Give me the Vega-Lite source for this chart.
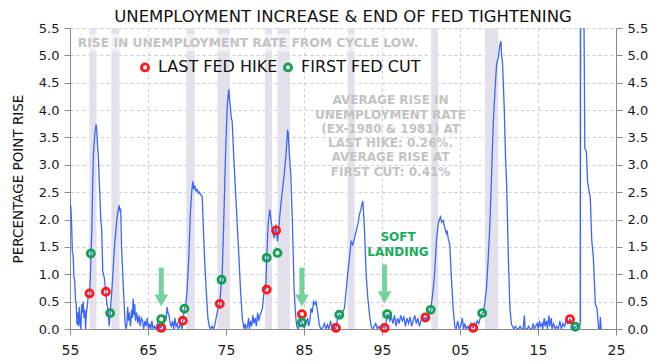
{
  "$schema": "https://vega.github.io/schema/vega-lite/v6.json",
  "width": 546,
  "height": 301,
  "autosize": {"type": "none"},
  "padding": {"left": 70, "top": 28, "right": 48, "bottom": 35},
  "background": "white",
  "title": {
    "text": "UNEMPLOYMENT INCREASE & END OF FED TIGHTENING",
    "font": "DejaVu Sans",
    "fontSize": 16.5,
    "fontWeight": "normal",
    "color": "#111",
    "anchor": "middle",
    "offset": 5,
    "dy": 8
  },
  "config": {
    "view": {"stroke": null},
    "axis": {
      "labelFont": "DejaVu Sans",
      "titleFont": "DejaVu Sans",
      "labelColor": "#1a1a1a",
      "domainColor": "#8a8a8a",
      "tickColor": "#8a8a8a",
      "tickSize": 6,
      "labelFlush": false,
      "gridColor": "#cdc5de",
      "gridDash": [3, 3],
      "gridWidth": 1
    }
  },
  "datasets": {
    "rec": [
      {"s": 1957.5, "e": 1958.4},
      {"s": 1960.3, "e": 1961.35},
      {"s": 1969.9, "e": 1971.0},
      {"s": 1973.9, "e": 1975.5},
      {"s": 1980.0, "e": 1980.9},
      {"s": 1981.6, "e": 1983.2},
      {"s": 1990.6, "e": 1991.5},
      {"s": 2001.3, "e": 2002.2},
      {"s": 2008.2, "e": 2009.9},
      {"s": 2020.3, "e": 2020.6}
    ],
    "series": [
      {"t": 1955.0, "v": 2.40}, {"t": 1955.05, "v": 2.15}, {"t": 1955.1, "v": 2.25}, {"t": 1955.2, "v": 1.95},
      {"t": 1955.3, "v": 1.40}, {"t": 1955.4, "v": 1.35}, {"t": 1955.5, "v": 0.95}, {"t": 1955.6, "v": 0.90},
      {"t": 1955.7, "v": 0.55}, {"t": 1955.8, "v": 0.45}, {"t": 1955.9, "v": 0.08}, {"t": 1956.0, "v": 0.30},
      {"t": 1956.1, "v": 0.05}, {"t": 1956.2, "v": 0.40}, {"t": 1956.3, "v": 0.10}, {"t": 1956.4, "v": 0.00},
      {"t": 1956.5, "v": 0.45}, {"t": 1956.6, "v": 0.30}, {"t": 1956.7, "v": 0.50}, {"t": 1956.8, "v": 0.20},
      {"t": 1956.9, "v": 0.35}, {"t": 1957.0, "v": 0.00}, {"t": 1957.1, "v": 0.30}, {"t": 1957.2, "v": 0.40},
      {"t": 1957.3, "v": 0.55}, {"t": 1957.4, "v": 0.60}, {"t": 1957.5, "v": 0.65}, {"t": 1957.6, "v": 0.90},
      {"t": 1957.7, "v": 1.40}, {"t": 1957.8, "v": 1.80}, {"t": 1957.9, "v": 2.60}, {"t": 1958.0, "v": 3.20},
      {"t": 1958.2, "v": 3.60}, {"t": 1958.35, "v": 3.74}, {"t": 1958.45, "v": 3.60}, {"t": 1958.55, "v": 3.30},
      {"t": 1958.65, "v": 3.10}, {"t": 1958.75, "v": 2.70}, {"t": 1958.86, "v": 2.33}, {"t": 1958.95, "v": 2.00},
      {"t": 1959.07, "v": 1.80}, {"t": 1959.2, "v": 1.05}, {"t": 1959.3, "v": 1.00}, {"t": 1959.4, "v": 0.93},
      {"t": 1959.5, "v": 0.80}, {"t": 1959.6, "v": 0.68}, {"t": 1959.72, "v": 0.45}, {"t": 1959.85, "v": 0.40},
      {"t": 1959.95, "v": 0.20}, {"t": 1960.02, "v": 0.05}, {"t": 1960.15, "v": 0.29}, {"t": 1960.36, "v": 0.69},
      {"t": 1960.5, "v": 1.00}, {"t": 1960.65, "v": 1.40}, {"t": 1960.79, "v": 1.66}, {"t": 1961.0, "v": 2.00},
      {"t": 1961.15, "v": 2.15}, {"t": 1961.3, "v": 2.26}, {"t": 1961.4, "v": 2.15}, {"t": 1961.5, "v": 2.20},
      {"t": 1961.6, "v": 1.55}, {"t": 1961.7, "v": 1.20}, {"t": 1961.86, "v": 0.69}, {"t": 1962.0, "v": 0.30},
      {"t": 1962.08, "v": 0.08}, {"t": 1962.2, "v": 0.00}, {"t": 1962.3, "v": 0.10}, {"t": 1962.4, "v": 0.40},
      {"t": 1962.5, "v": 0.15}, {"t": 1962.6, "v": 0.30}, {"t": 1962.75, "v": 0.05}, {"t": 1962.9, "v": 0.35},
      {"t": 1963.0, "v": 0.20}, {"t": 1963.1, "v": 0.55}, {"t": 1963.2, "v": 0.25}, {"t": 1963.3, "v": 0.45},
      {"t": 1963.4, "v": 0.15}, {"t": 1963.55, "v": 0.30}, {"t": 1963.7, "v": 0.10}, {"t": 1963.85, "v": 0.25},
      {"t": 1964.0, "v": 0.05}, {"t": 1964.15, "v": 0.20}, {"t": 1964.3, "v": 0.15}, {"t": 1964.45, "v": 0.00},
      {"t": 1964.6, "v": 0.15}, {"t": 1964.75, "v": 0.05}, {"t": 1964.9, "v": 0.20}, {"t": 1965.05, "v": 0.00},
      {"t": 1965.2, "v": 0.10}, {"t": 1965.35, "v": 0.00}, {"t": 1965.5, "v": 0.15}, {"t": 1965.65, "v": 0.00},
      {"t": 1965.8, "v": 0.05}, {"t": 1966.0, "v": 0.00}, {"t": 1966.2, "v": 0.10}, {"t": 1966.4, "v": 0.00},
      {"t": 1966.55, "v": 0.05}, {"t": 1966.7, "v": 0.02}, {"t": 1966.85, "v": 0.10}, {"t": 1967.0, "v": 0.05},
      {"t": 1967.15, "v": 0.25}, {"t": 1967.3, "v": 0.15}, {"t": 1967.45, "v": 0.40}, {"t": 1967.55, "v": 0.30},
      {"t": 1967.7, "v": 0.25}, {"t": 1967.85, "v": 0.10}, {"t": 1968.0, "v": 0.05}, {"t": 1968.15, "v": 0.15},
      {"t": 1968.3, "v": 0.00}, {"t": 1968.45, "v": 0.20}, {"t": 1968.6, "v": 0.05}, {"t": 1968.75, "v": 0.10},
      {"t": 1968.9, "v": 0.00}, {"t": 1969.05, "v": 0.05}, {"t": 1969.2, "v": 0.10}, {"t": 1969.35, "v": 0.00},
      {"t": 1969.46, "v": 0.15}, {"t": 1969.67, "v": 0.37}, {"t": 1969.85, "v": 0.45}, {"t": 1970.0, "v": 0.69},
      {"t": 1970.23, "v": 1.30}, {"t": 1970.44, "v": 2.15}, {"t": 1970.6, "v": 2.50}, {"t": 1970.74, "v": 2.70},
      {"t": 1970.87, "v": 2.55}, {"t": 1971.0, "v": 2.62}, {"t": 1971.15, "v": 2.52}, {"t": 1971.3, "v": 2.55},
      {"t": 1971.45, "v": 2.48}, {"t": 1971.6, "v": 2.50}, {"t": 1971.73, "v": 2.46}, {"t": 1971.95, "v": 2.42},
      {"t": 1972.08, "v": 1.91}, {"t": 1972.25, "v": 1.30}, {"t": 1972.47, "v": 0.69}, {"t": 1972.68, "v": 0.20},
      {"t": 1972.85, "v": 0.05}, {"t": 1973.02, "v": 0.00}, {"t": 1973.2, "v": 0.05}, {"t": 1973.4, "v": 0.00},
      {"t": 1973.6, "v": 0.10}, {"t": 1973.8, "v": 0.25}, {"t": 1974.0, "v": 0.40}, {"t": 1974.2, "v": 0.46},
      {"t": 1974.43, "v": 0.90}, {"t": 1974.5, "v": 0.93}, {"t": 1974.7, "v": 1.91}, {"t": 1974.93, "v": 3.13},
      {"t": 1975.14, "v": 4.04}, {"t": 1975.3, "v": 4.30}, {"t": 1975.37, "v": 4.38}, {"t": 1975.45, "v": 4.20},
      {"t": 1975.57, "v": 4.04}, {"t": 1975.68, "v": 3.85}, {"t": 1975.79, "v": 3.80}, {"t": 1976.0, "v": 3.13},
      {"t": 1976.2, "v": 2.58}, {"t": 1976.44, "v": 1.91}, {"t": 1976.66, "v": 1.30}, {"t": 1976.87, "v": 0.69},
      {"t": 1977.09, "v": 0.20}, {"t": 1977.3, "v": 0.00}, {"t": 1977.45, "v": 0.10}, {"t": 1977.6, "v": 0.00},
      {"t": 1977.75, "v": 0.05}, {"t": 1977.9, "v": 0.20}, {"t": 1978.0, "v": 0.00}, {"t": 1978.15, "v": 0.15},
      {"t": 1978.3, "v": 0.05}, {"t": 1978.45, "v": 0.25}, {"t": 1978.6, "v": 0.10}, {"t": 1978.75, "v": 0.20},
      {"t": 1978.9, "v": 0.05}, {"t": 1979.05, "v": 0.30}, {"t": 1979.2, "v": 0.15}, {"t": 1979.35, "v": 0.25},
      {"t": 1979.5, "v": 0.30}, {"t": 1979.67, "v": 0.38}, {"t": 1979.97, "v": 0.81}, {"t": 1980.1, "v": 0.72},
      {"t": 1980.22, "v": 1.30}, {"t": 1980.4, "v": 1.91}, {"t": 1980.61, "v": 2.18}, {"t": 1980.74, "v": 2.03},
      {"t": 1980.96, "v": 1.79}, {"t": 1981.17, "v": 1.66}, {"t": 1981.38, "v": 1.91}, {"t": 1981.6, "v": 1.60},
      {"t": 1981.8, "v": 1.91}, {"t": 1982.03, "v": 2.27}, {"t": 1982.25, "v": 2.55}, {"t": 1982.46, "v": 2.82},
      {"t": 1982.7, "v": 3.20}, {"t": 1982.89, "v": 3.62}, {"t": 1982.97, "v": 3.60}, {"t": 1983.1, "v": 3.25},
      {"t": 1983.31, "v": 2.82}, {"t": 1983.52, "v": 1.91}, {"t": 1983.74, "v": 0.69}, {"t": 1983.95, "v": 0.20},
      {"t": 1984.08, "v": 0.05}, {"t": 1984.25, "v": 0.00}, {"t": 1984.45, "v": 0.10}, {"t": 1984.6, "v": 0.25},
      {"t": 1984.73, "v": 0.12}, {"t": 1984.9, "v": 0.05}, {"t": 1985.03, "v": 0.02}, {"t": 1985.25, "v": 0.10},
      {"t": 1985.46, "v": 0.20}, {"t": 1985.6, "v": 0.05}, {"t": 1985.75, "v": 0.15}, {"t": 1985.89, "v": 0.38},
      {"t": 1986.05, "v": 0.30}, {"t": 1986.23, "v": 0.50}, {"t": 1986.4, "v": 0.45}, {"t": 1986.53, "v": 0.50},
      {"t": 1986.75, "v": 0.32}, {"t": 1986.96, "v": 0.08}, {"t": 1987.15, "v": 0.00}, {"t": 1987.39, "v": 0.02},
      {"t": 1987.6, "v": 0.10}, {"t": 1987.8, "v": 0.00}, {"t": 1988.0, "v": 0.08}, {"t": 1988.2, "v": 0.00},
      {"t": 1988.4, "v": 0.15}, {"t": 1988.6, "v": 0.00}, {"t": 1988.8, "v": 0.10}, {"t": 1988.95, "v": 0.00},
      {"t": 1989.1, "v": 0.02}, {"t": 1989.32, "v": 0.20}, {"t": 1989.53, "v": 0.26}, {"t": 1989.75, "v": 0.20},
      {"t": 1989.95, "v": 0.30}, {"t": 1990.18, "v": 0.38}, {"t": 1990.4, "v": 0.69}, {"t": 1990.6, "v": 1.00},
      {"t": 1990.83, "v": 1.30}, {"t": 1991.04, "v": 1.60}, {"t": 1991.26, "v": 1.54}, {"t": 1991.47, "v": 1.66},
      {"t": 1991.69, "v": 1.79}, {"t": 1991.9, "v": 1.91}, {"t": 1992.11, "v": 2.09}, {"t": 1992.33, "v": 2.21},
      {"t": 1992.54, "v": 2.34}, {"t": 1992.63, "v": 2.15}, {"t": 1992.76, "v": 1.79}, {"t": 1992.97, "v": 0.99},
      {"t": 1993.18, "v": 0.57}, {"t": 1993.4, "v": 0.26}, {"t": 1993.6, "v": 0.05}, {"t": 1993.83, "v": 0.00},
      {"t": 1994.0, "v": 0.05}, {"t": 1994.2, "v": 0.10}, {"t": 1994.4, "v": 0.00}, {"t": 1994.6, "v": 0.05},
      {"t": 1994.8, "v": 0.00}, {"t": 1995.0, "v": 0.05}, {"t": 1995.33, "v": 0.02}, {"t": 1995.5, "v": 0.10},
      {"t": 1995.67, "v": 0.27}, {"t": 1995.8, "v": 0.25}, {"t": 1996.0, "v": 0.15}, {"t": 1996.2, "v": 0.22},
      {"t": 1996.4, "v": 0.10}, {"t": 1996.6, "v": 0.25}, {"t": 1996.8, "v": 0.05}, {"t": 1997.0, "v": 0.20},
      {"t": 1997.2, "v": 0.10}, {"t": 1997.4, "v": 0.25}, {"t": 1997.6, "v": 0.15}, {"t": 1997.8, "v": 0.22},
      {"t": 1998.0, "v": 0.05}, {"t": 1998.2, "v": 0.20}, {"t": 1998.4, "v": 0.10}, {"t": 1998.6, "v": 0.22},
      {"t": 1998.8, "v": 0.05}, {"t": 1999.0, "v": 0.15}, {"t": 1999.2, "v": 0.25}, {"t": 1999.4, "v": 0.10},
      {"t": 1999.6, "v": 0.20}, {"t": 1999.8, "v": 0.05}, {"t": 2000.0, "v": 0.15}, {"t": 2000.2, "v": 0.25},
      {"t": 2000.4, "v": 0.15}, {"t": 2000.56, "v": 0.21}, {"t": 2000.7, "v": 0.18}, {"t": 2000.9, "v": 0.26},
      {"t": 2001.1, "v": 0.30}, {"t": 2001.25, "v": 0.35}, {"t": 2001.33, "v": 0.45}, {"t": 2001.55, "v": 0.70},
      {"t": 2001.76, "v": 1.05}, {"t": 2001.97, "v": 1.60}, {"t": 2002.2, "v": 1.91}, {"t": 2002.35, "v": 2.00},
      {"t": 2002.5, "v": 2.05}, {"t": 2002.65, "v": 1.95}, {"t": 2002.84, "v": 1.98}, {"t": 2003.05, "v": 1.85},
      {"t": 2003.25, "v": 1.75}, {"t": 2003.35, "v": 1.80}, {"t": 2003.48, "v": 1.66}, {"t": 2003.69, "v": 1.54},
      {"t": 2003.9, "v": 0.93}, {"t": 2004.12, "v": 0.38}, {"t": 2004.33, "v": 0.05}, {"t": 2004.5, "v": 0.00},
      {"t": 2004.7, "v": 0.15}, {"t": 2004.9, "v": 0.00}, {"t": 2005.1, "v": 0.05}, {"t": 2005.3, "v": 0.20},
      {"t": 2005.45, "v": 0.00}, {"t": 2005.6, "v": 0.10}, {"t": 2005.8, "v": 0.00}, {"t": 2006.0, "v": 0.05},
      {"t": 2006.2, "v": 0.00}, {"t": 2006.4, "v": 0.10}, {"t": 2006.55, "v": 0.05}, {"t": 2006.7, "v": 0.02},
      {"t": 2006.85, "v": 0.10}, {"t": 2007.0, "v": 0.05}, {"t": 2007.2, "v": 0.15}, {"t": 2007.4, "v": 0.10},
      {"t": 2007.6, "v": 0.20}, {"t": 2007.84, "v": 0.29}, {"t": 2008.0, "v": 0.30}, {"t": 2008.2, "v": 0.50},
      {"t": 2008.4, "v": 0.75}, {"t": 2008.62, "v": 1.30}, {"t": 2008.83, "v": 1.90}, {"t": 2009.05, "v": 2.82},
      {"t": 2009.26, "v": 3.74}, {"t": 2009.48, "v": 4.35}, {"t": 2009.69, "v": 4.84}, {"t": 2009.91, "v": 4.96},
      {"t": 2010.12, "v": 5.20}, {"t": 2010.25, "v": 5.26}, {"t": 2010.33, "v": 5.00}, {"t": 2010.46, "v": 4.84},
      {"t": 2010.67, "v": 4.04}, {"t": 2010.84, "v": 3.13}, {"t": 2010.98, "v": 2.64}, {"t": 2011.2, "v": 1.30},
      {"t": 2011.4, "v": 0.38}, {"t": 2011.6, "v": 0.08}, {"t": 2011.75, "v": 0.05}, {"t": 2011.9, "v": 0.00},
      {"t": 2012.1, "v": 0.05}, {"t": 2012.3, "v": 0.00}, {"t": 2012.5, "v": 0.00}, {"t": 2012.7, "v": 0.05},
      {"t": 2012.9, "v": 0.00}, {"t": 2013.1, "v": 0.00}, {"t": 2013.25, "v": 0.25}, {"t": 2013.35, "v": 0.00},
      {"t": 2013.6, "v": 0.00}, {"t": 2013.8, "v": 0.05}, {"t": 2014.0, "v": 0.00}, {"t": 2014.2, "v": 0.00},
      {"t": 2014.4, "v": 0.10}, {"t": 2014.5, "v": 0.00}, {"t": 2014.7, "v": 0.05}, {"t": 2014.9, "v": 0.10},
      {"t": 2015.0, "v": 0.00}, {"t": 2015.2, "v": 0.15}, {"t": 2015.3, "v": 0.05}, {"t": 2015.5, "v": 0.10},
      {"t": 2015.6, "v": 0.00}, {"t": 2015.8, "v": 0.20}, {"t": 2015.9, "v": 0.05}, {"t": 2016.1, "v": 0.15},
      {"t": 2016.2, "v": 0.00}, {"t": 2016.4, "v": 0.25}, {"t": 2016.5, "v": 0.05}, {"t": 2016.7, "v": 0.20},
      {"t": 2016.8, "v": 0.00}, {"t": 2017.0, "v": 0.10}, {"t": 2017.2, "v": 0.00}, {"t": 2017.4, "v": 0.05},
      {"t": 2017.6, "v": 0.00}, {"t": 2017.8, "v": 0.15}, {"t": 2018.0, "v": 0.00}, {"t": 2018.2, "v": 0.10},
      {"t": 2018.4, "v": 0.05}, {"t": 2018.6, "v": 0.15}, {"t": 2018.8, "v": 0.10}, {"t": 2019.0, "v": 0.15},
      {"t": 2019.1, "v": 0.18}, {"t": 2019.3, "v": 0.10}, {"t": 2019.5, "v": 0.05}, {"t": 2019.7, "v": 0.00},
      {"t": 2019.78, "v": 0.04}, {"t": 2020.0, "v": 0.05}, {"t": 2020.2, "v": 0.02}, {"t": 2020.42, "v": 0.10},
      {"t": 2020.47, "v": 11.0}, {"t": 2020.85, "v": 6.50}, {"t": 2020.93, "v": 4.96}, {"t": 2021.0, "v": 3.30},
      {"t": 2021.2, "v": 3.25}, {"t": 2021.35, "v": 2.70}, {"t": 2021.48, "v": 2.58}, {"t": 2021.7, "v": 2.40},
      {"t": 2021.9, "v": 1.60}, {"t": 2022.1, "v": 1.30}, {"t": 2022.35, "v": 0.45}, {"t": 2022.56, "v": 0.38},
      {"t": 2022.78, "v": 0.00}, {"t": 2022.93, "v": 0.00}, {"t": 2022.99, "v": 0.22}, {"t": 2023.1, "v": 0.00}
    ],
    "events": [
      {"t": 1957.5, "v": 0.65, "ev": "LAST FED HIKE"},
      {"t": 1959.6, "v": 0.68, "ev": "LAST FED HIKE"},
      {"t": 1966.7, "v": 0.02, "ev": "LAST FED HIKE"},
      {"t": 1969.46, "v": 0.15, "ev": "LAST FED HIKE"},
      {"t": 1974.2, "v": 0.46, "ev": "LAST FED HIKE"},
      {"t": 1980.22, "v": 0.72, "ev": "LAST FED HIKE"},
      {"t": 1981.42, "v": 1.80, "ev": "LAST FED HIKE"},
      {"t": 1984.73, "v": 0.27, "ev": "LAST FED HIKE"},
      {"t": 1989.1, "v": 0.02, "ev": "LAST FED HIKE"},
      {"t": 1995.33, "v": 0.02, "ev": "LAST FED HIKE"},
      {"t": 2000.56, "v": 0.21, "ev": "LAST FED HIKE"},
      {"t": 2006.7, "v": 0.02, "ev": "LAST FED HIKE"},
      {"t": 2019.1, "v": 0.18, "ev": "LAST FED HIKE"},
      {"t": 1957.67, "v": 1.38, "ev": "FIRST FED CUT"},
      {"t": 1960.15, "v": 0.29, "ev": "FIRST FED CUT"},
      {"t": 1966.7, "v": 0.18, "ev": "FIRST FED CUT"},
      {"t": 1969.67, "v": 0.37, "ev": "FIRST FED CUT"},
      {"t": 1974.43, "v": 0.90, "ev": "FIRST FED CUT"},
      {"t": 1980.22, "v": 1.30, "ev": "FIRST FED CUT"},
      {"t": 1981.6, "v": 1.39, "ev": "FIRST FED CUT"},
      {"t": 1984.73, "v": 0.12, "ev": "FIRST FED CUT"},
      {"t": 1989.53, "v": 0.26, "ev": "FIRST FED CUT"},
      {"t": 1995.67, "v": 0.27, "ev": "FIRST FED CUT"},
      {"t": 2001.25, "v": 0.35, "ev": "FIRST FED CUT"},
      {"t": 2007.84, "v": 0.29, "ev": "FIRST FED CUT"},
      {"t": 2019.78, "v": 0.04, "ev": "FIRST FED CUT"}
    ],
    "arrows": [
      {"t": 1966.7, "top": 1.12, "bot": 0.62, "head": 0.52},
      {"t": 1984.73, "top": 1.12, "bot": 0.62, "head": 0.52},
      {"t": 1995.33, "top": 1.18, "bot": 0.68, "head": 0.58}
    ],
    "one": [{}]
  },
  "resolve": {"axis": {"y": "independent"}},
  "layer": [
    {
      "data": {"name": "rec"},
      "mark": {"type": "rect", "color": "#e4e0eb"},
      "encoding": {
        "x": {"field": "s", "type": "quantitative", "title": null,
              "scale": {"domain": [1955, 2025], "nice": false, "zero": false}},
        "x2": {"field": "e"}
      }
    },
    {
      "data": {"name": "series"},
      "mark": {"type": "line", "color": "#3a66ff", "strokeWidth": 1.3, "clip": true},
      "encoding": {
        "x": {"field": "t", "type": "quantitative", "title": null,
              "scale": {"domain": [1955, 2025], "nice": false, "zero": false},
              "axis": {
                "values": [1955, 1957.5, 1960, 1962.5, 1965, 1967.5, 1970, 1972.5, 1975, 1977.5, 1980, 1982.5, 1985, 1987.5, 1990, 1992.5, 1995, 1997.5, 2000, 2002.5, 2005, 2007.5, 2010, 2012.5, 2015, 2017.5, 2020, 2022.5, 2025],
                "labelExpr": "datum.value % 5 == 0 ? format(datum.value % 100, '02d') : ''",
                "labelFontSize": 14,
                "labelPadding": 8,
                "grid": true
              }},
        "y": {"field": "v", "type": "quantitative",
              "scale": {"domain": [0, 5.5], "nice": false},
              "axis": {
                "orient": "left",
                "title": "PERCENTAGE POINT RISE",
                "titleFontSize": 13.5,
                "titleFontWeight": "normal",
                "titleColor": "#111",
                "titlePadding": 13,
                "values": [0, 0.5, 1, 1.5, 2, 2.5, 3, 3.5, 4, 4.5, 5, 5.5],
                "format": ".1f",
                "labelFontSize": 13,
                "labelPadding": 5,
                "grid": true
              }}
      }
    },
    {
      "data": {"name": "arrows"},
      "mark": {"type": "rule", "color": "#74d39b", "strokeWidth": 5},
      "encoding": {
        "x": {"field": "t", "type": "quantitative", "title": null},
        "y": {"field": "top", "type": "quantitative", "axis": null},
        "y2": {"field": "bot"}
      }
    },
    {
      "data": {"name": "arrows"},
      "mark": {"type": "point", "shape": "triangle-down", "filled": true, "color": "#74d39b", "size": 190, "opacity": 1},
      "encoding": {
        "x": {"field": "t", "type": "quantitative", "title": null},
        "y": {"field": "head", "type": "quantitative", "axis": null}
      }
    },
    {
      "data": {"name": "events"},
      "mark": {"type": "point", "filled": false, "strokeWidth": 2.8, "size": 50, "opacity": 1},
      "encoding": {
        "x": {"field": "t", "type": "quantitative", "title": null},
        "y": {"field": "v", "type": "quantitative",
              "axis": {
                "orient": "right",
                "title": null,
                "values": [0, 0.5, 1, 1.5, 2, 2.5, 3, 3.5, 4, 4.5, 5, 5.5],
                "format": ".1f",
                "labelFontSize": 13,
                "labelPadding": 5,
                "grid": false
              }},
        "color": {"field": "ev", "type": "nominal",
                  "scale": {"domain": ["LAST FED HIKE", "FIRST FED CUT"], "range": ["#ff1a1a", "#12a24e"]},
                  "legend": {
                    "title": null,
                    "orient": "none",
                    "direction": "horizontal",
                    "legendX": 67,
                    "legendY": 31,
                    "labelFont": "DejaVu Sans",
                    "labelFontSize": 16,
                    "labelColor": "#111",
                    "labelOffset": 5,
                    "symbolType": "circle",
                    "symbolSize": 50,
                    "symbolStrokeWidth": 2.8,
                    "columnPadding": 0,
                    "padding": 0
                  }}
      }
    },
    {
      "data": {"name": "one"},
      "mark": {"type": "rect", "color": "white", "opacity": 0.55},
      "encoding": {
        "x": {"datum": 1955.8, "type": "quantitative"},
        "x2": {"datum": 1999.6},
        "y": {"datum": 5.07, "type": "quantitative", "axis": null},
        "y2": {"datum": 5.4}
      }
    },
    {
      "data": {"name": "one"},
      "mark": {"type": "text", "text": "RISE  IN UNEMPLOYMENT RATE  FROM  CYCLE LOW.", "font": "DejaVu Sans", "fontWeight": "bold", "fontSize": 12.3, "color": "#c3c3c3", "align": "left", "baseline": "middle"},
      "encoding": {
        "x": {"datum": 1956.0, "type": "quantitative"},
        "y": {"datum": 5.23, "type": "quantitative", "axis": null}
      }
    },
    {
      "data": {"name": "one"},
      "mark": {"type": "text", "text": ["AVERAGE  RISE IN", "UNEMPLOYMENT RATE", "(EX-1980 & 1981) AT", "LAST HIKE: 0.26%.", "AVERAGE  RISE AT", "FIRST CUT: 0.41%"], "font": "DejaVu Sans", "fontWeight": "bold", "fontSize": 12, "lineHeight": 14.3, "color": "#c3c3c3", "align": "center", "baseline": "middle"},
      "encoding": {
        "x": {"datum": 1996.1, "type": "quantitative"},
        "y": {"datum": 4.18, "type": "quantitative", "axis": null}
      }
    },
    {
      "data": {"name": "one"},
      "mark": {"type": "text", "text": ["SOFT", "LANDING"], "font": "DejaVu Sans", "fontWeight": "bold", "fontSize": 12, "lineHeight": 15.3, "color": "#19ad57", "align": "center", "baseline": "middle"},
      "encoding": {
        "x": {"datum": 1997.05, "type": "quantitative"},
        "y": {"datum": 1.68, "type": "quantitative", "axis": null}
      }
    }
  ]
}
